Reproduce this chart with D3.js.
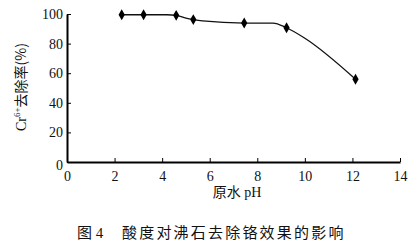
<!DOCTYPE html>
<html>
<head>
<meta charset="utf-8">
<script src="https://cdn.jsdelivr.net/npm/d3@7"></script>
<style>
  body { margin: 0; background: #fff; }
  svg { display: block; }
</style>
</head>
<body>
<svg id="chart" width="413" height="246"></svg>
<script>
// measured points (markers)
const ph = [2.3, 3.22, 4.59, 5.31, 7.45, 9.23, 12.13]
const removal = [99.5, 99.5, 99.1, 96.2, 93.9, 90.7, 55.9]
// vertices of the drawn line
const linePh = [2.3, 3.22, 4.2, 4.59, 5.0, 5.31, 5.7, 7.45, 8.66, 9.23, 10.0, 12.13]
const lineVal = [99.5, 99.5, 99.5, 99.1, 97.2, 96.2, 95.3, 93.9, 93.9, 90.7, 83.6, 55.9]
const xTicks = [0, 2, 4, 6, 8, 10, 12, 14]
const yTicks = [0, 20, 40, 60, 80, 100]

const SERIF = '"Liberation Serif", "DejaVu Serif", serif'
const CJK = '"Noto Sans CJK SC", sans-serif'

const svg = d3.select('#chart')
const x = d3.scaleLinear().domain([0, 14]).range([67, 400])
const y = d3.scaleLinear().domain([0, 100]).range([162, 14])

// x axis
const gx = svg.append('g')
  .attr('transform', `translate(0, ${y(0)})`)
  .call(d3.axisBottom(x).tickValues(xTicks).tickSizeInner(-4).tickSizeOuter(0).tickPadding(9))
gx.select('.domain').attr('stroke', '#000').attr('stroke-width', 2)
gx.selectAll('.tick line').attr('stroke', '#000').attr('stroke-width', 1)
gx.selectAll('.tick text')
  .style('font-family', SERIF)
  .style('font-size', '14px')
  .attr('fill', '#111')

// y axis
const gy = svg.append('g')
  .attr('transform', `translate(${x(0)}, 0)`)
  .call(d3.axisLeft(y).tickValues(yTicks).tickSizeInner(-4).tickSizeOuter(0).tickPadding(4))
gy.select('.domain').attr('stroke', '#000').attr('stroke-width', 2)
gy.selectAll('.tick line').attr('stroke', '#000').attr('stroke-width', 1)
gy.selectAll('.tick text')
  .style('font-family', SERIF)
  .style('font-size', '14px')
  .attr('fill', '#111')
gy.selectAll('.tick').filter(d => d === 0).select('text').attr('dy', '0.55em')

// line
const line = d3.line()
  .x(d => x(d[0]))
  .y(d => y(d[1]))
  .curve(d3.curveMonotoneX)
svg.append('path')
  .datum(linePh.map((p, i) => [p, lineVal[i]]))
  .attr('fill', 'none')
  .attr('stroke', '#111')
  .attr('stroke-width', 1.3)
  .attr('d', line)

// markers
svg.append('g')
  .selectAll('path')
  .data(ph.map((p, i) => [p, removal[i]]))
  .join('path')
  .attr('transform', d => `translate(${x(d[0])}, ${y(d[1])})`)
  .attr('d', d3.symbol(d3.symbolDiamond, 34))
  .attr('fill', '#000')

// axis titles
const yTitle = svg.append('text')
  .attr('transform', `translate(26, ${(y(0) + y(100)) / 2 - 1}) rotate(-90)`)
  .attr('text-anchor', 'middle')
  .style('font-size', '14px')
  .attr('fill', '#111')
yTitle.append('tspan').style('font-family', SERIF).text('Cr')
yTitle.append('tspan').attr('dy', -6).style('font-family', SERIF).style('font-size', '9px').text('6+')
yTitle.append('tspan').attr('dy', 6).style('font-family', CJK).text('去除率(%)')

svg.append('text')
  .attr('x', 237)
  .attr('y', 197)
  .attr('text-anchor', 'middle')
  .attr('fill', '#111')
  .style('font-size', '14px')
  .style('font-family', CJK)
  .text('原水')
  .append('tspan')
  .style('font-family', SERIF)
  .text(' pH')

// caption
const cap = svg.append('text')
  .attr('x', 77)
  .attr('y', 238)
  .attr('fill', '#111')
  .style('font-size', '15px')
  .style('font-family', CJK)
cap.append('tspan').text('图')
cap.append('tspan').style('font-family', SERIF).text(' 4')
cap.append('tspan').attr('x', 122).style('letter-spacing', '2.2px').text('酸度对沸石去除铬效果的影响')
</script>
</body>
</html>
